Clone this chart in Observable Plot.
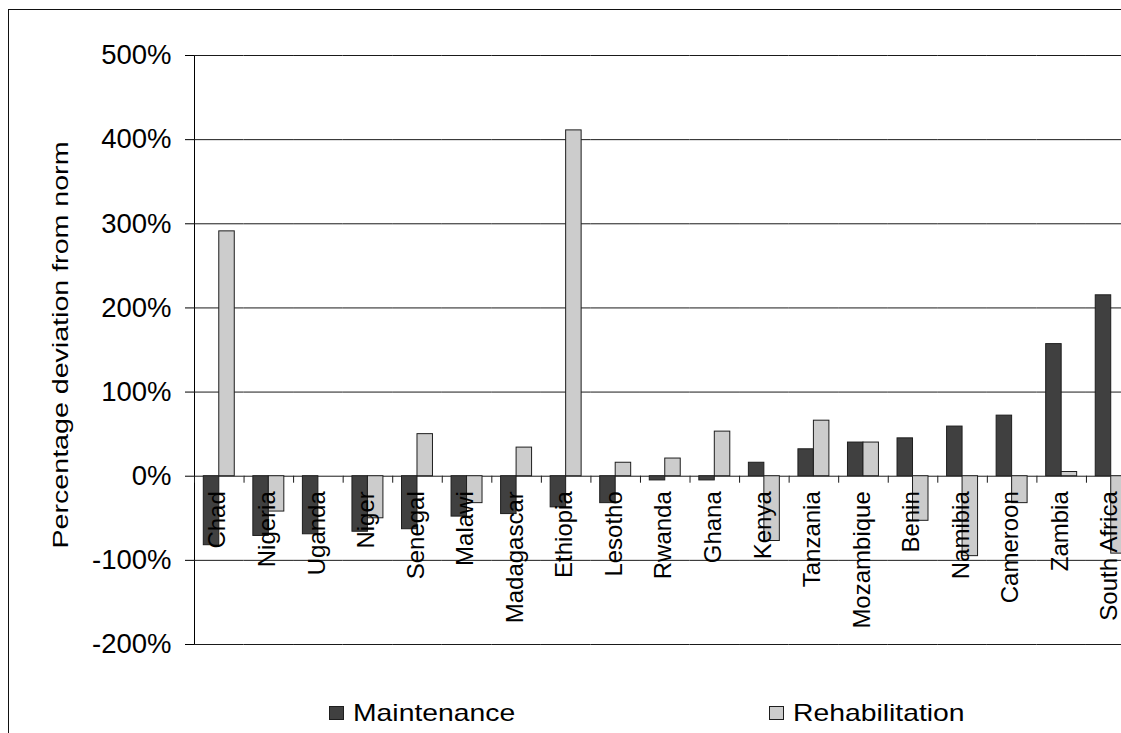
<!DOCTYPE html>
<html>
<head>
<meta charset="utf-8">
<script src="https://cdn.jsdelivr.net/npm/d3@7"></script>
<script src="https://cdn.jsdelivr.net/npm/@observablehq/plot@0.6"></script>
<style>
  html, body { margin: 0; padding: 0; background: #fff; overflow: hidden; }
  #chart { position: relative; width: 1121px; height: 733px; overflow: hidden;
           font-family: "Liberation Sans", Arial, sans-serif; color: #000; }
  #frame { position: absolute; left: 8px; top: 9px; width: 1300px; height: 900px;
           border-left: 1.5px solid #111; border-top: 1.5px solid #111; }
  #plot { position: absolute; left: 0; top: 0; }
  #ytitle { position: absolute; left: 61px; top: 345px; white-space: nowrap; line-height: 1;
            transform: translate(-50%, -50%) rotate(-90deg) scaleX(1.3); font-size: 22px; }
  #legend { position: absolute; left: 329px; top: 701px; display: flex; }
  #legend .item { flex: 0 0 440px; display: flex; align-items: center; height: 24px; }
  #legend .swatch { width: 13px; height: 12px; border: 1px solid #1e1e1e; margin-right: 9px; }
  #legend .name { font-size: 24px; line-height: 24px; display: inline-block;
                  transform: scaleX(1.18); transform-origin: left center; }
</style>
</head>
<body>
<div id="chart">
  <div id="frame"></div>
  <div id="plot"></div>
  <div id="ytitle">Percentage deviation from norm</div>
  <div id="legend"></div>
</div>
<script>
// Countries in display order, with deviation from the norm (%) for each spending type
const countries = ["Chad", "Nigeria", "Uganda", "Niger", "Senegal", "Malawi", "Madagascar",
  "Ethiopia", "Lesotho", "Rwanda", "Ghana", "Kenya", "Tanzania", "Mozambique", "Benin",
  "Namibia", "Cameroon", "Zambia", "South Africa"];
const maintenance = [-82, -71, -69, -66, -63, -48, -45, -37, -32, -5, -5, 16, 32, 40, 45, 59, 72, 157, 215];
const rehabilitation = [291, -42, 0, -50, 50, -32, 34, 411, 16, 21, 53, -77, 66, 40, -53, -95, -32, 5, -92];
const series = ["Maintenance", "Rehabilitation"];
const seriesColors = ["#404040", "#cccccc"];
const yTicks = [-200, -100, 0, 100, 200, 300, 400, 500];

const rows = countries.flatMap((country, i) => [
  {country, series: series[0], value: maintenance[i]},
  {country, series: series[1], value: rehabilitation[i]}
]);

// Layout: the category band runs slightly past the right edge of the chart
const W = 1121, H = 690, mL = 194, mR = -14.5, mT = 55, mB = 46;
const step = (W - mR - mL) / countries.length;

const plot = Plot.plot({
  width: W, height: H,
  marginLeft: mL, marginRight: mR, marginTop: mT, marginBottom: mB,
  style: {fontFamily: '"Liberation Sans", Arial, sans-serif', fontSize: "27.5px",
          color: "#000", background: "transparent", overflow: "hidden"},
  fx: {domain: countries, padding: 0, round: false, axis: null},
  x: {domain: series, paddingInner: 0, paddingOuter: 0.6, round: false, axis: null},
  y: {domain: [-200, 500], ticks: yTicks, tickFormat: d => `${d}%`,
      tickSize: 9, tickPadding: 14, line: true, label: null},
  color: {domain: series, range: seriesColors},
  marks: [
    Plot.ruleY(yTicks, {stroke: "#1a1a1a", strokeWidth: 1}),
    Plot.barY(rows, {fx: "country", x: "series", y: "value", fill: "series",
                     stroke: "#1e1e1e", strokeWidth: 1}),
    // category boundary ticks hanging below the zero line
    Plot.ruleX(countries, {fx: d => d, x: null, y1: () => 0, y2: () => 0,
                           insetBottom: -7, dx: -step / 2, stroke: "#1a1a1a"}),
    Plot.text(countries, {fx: d => d, y: () => 0, text: d => d, rotate: -90,
                          textAnchor: "end", lineAnchor: "middle", dx: -1.5, dy: 15,
                          fontSize: 24, fill: "#000"})
  ]
});
document.getElementById("plot").appendChild(plot);

// Legend
const legend = d3.select("#legend");
series.forEach((s, i) => {
  const item = legend.append("div").attr("class", "item");
  item.append("span").attr("class", "swatch").style("background", seriesColors[i]);
  item.append("span").attr("class", "name").text(s);
});
</script>
</body>
</html>
